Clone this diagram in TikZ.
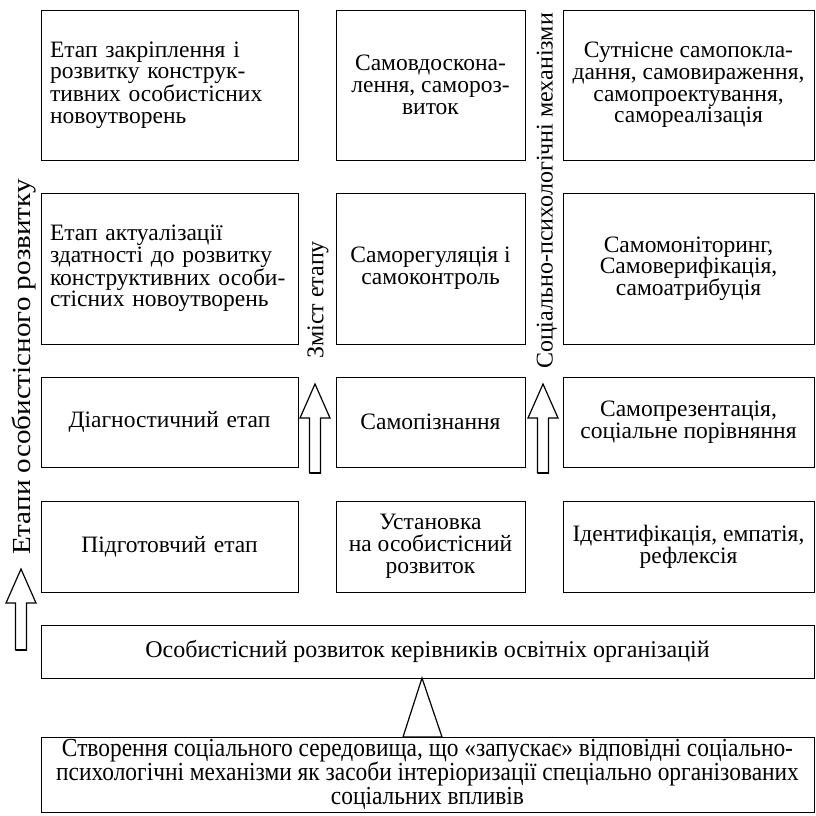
\documentclass[tikz,border=0pt]{standalone}
\usepackage{fontspec}
\setmainfont{Liberation Serif}
\newfontfamily\narrowfont[FakeStretch=0.9]{Liberation Serif}
\newfontfamily\widefont[FakeStretch=1.12]{Liberation Serif}
\usetikzlibrary{positioning}

\tikzset{
  box/.style={draw,line width=0.9pt,inner sep=0pt,outer sep=0pt,
    font=\fontsize{23.5}{21.7}\selectfont,align=center},
  stagebox/.style={box,minimum width=257pt,inner xsep=9pt,text width=239pt,align=left},
  midbox/.style={box,minimum width=189pt},
  mechbox/.style={box,minimum width=251pt},
  sidelabel/.style={rotate=90,inner sep=0pt,font=\fontsize{24}{24}\selectfont},
  arrline/.style={line width=1.2pt,line join=miter},
  pics/uparrow/.style={code={
    \draw[arrline] (-5.5,0) -- (-5.5,{-#1+34}) -- (-15,{-#1+34}) -- (0,-#1)
      -- (15,{-#1+34}) -- (5.5,{-#1+34}) -- (5.5,0) -- cycle;
    \draw[line width=2.5pt] (-5.5,0) -- (5.5,0);}}
}

\begin{document}
\lineskiplimit=-30pt
\begin{tikzpicture}[x=1pt,y=-1pt]
  \useasboundingbox (0,0) rectangle (816,816);

  % row 1
  \node[stagebox,minimum height=150pt] (a1) at (169.5,85)
    {Етап закріплення і\\ розвитку конструк-\\ тивних особистісних\\ новоутворень};
  \node[midbox,minimum height=150pt,right=38pt of a1] (b1)
    {Самовдоскона-\\ лення, самороз-\\ виток};
  \node[mechbox,minimum height=150pt,right=38pt of b1] (c1)
    {Сутнісне самопокла-\\ дання, самовираження,\\ самопроектування,\\ самореалізація};

  % row 2
  \node[stagebox,minimum height=151pt,below=33pt of a1] (a2)
    {Етап актуалізації\\ здатності до розвитку\\ конструктивних особи-\\ стісних новоутворень};
  \node[midbox,minimum height=151pt,below=33pt of b1] (b2)
    {Саморегуляція і\\ самоконтроль};
  \node[mechbox,minimum height=151pt,below=33pt of c1] (c2)
    {Самомоніторинг,\\ Самоверифікація,\\ самоатрибуція};

  % row 3
  \node[stagebox,minimum height=90pt,below=33pt of a2,align=center] (a3)
    {Діагностичний етап};
  \node[midbox,minimum height=90pt,below=33pt of b2] (b3) {Самопізнання};
  \node[mechbox,minimum height=90pt,below=33pt of c2] (c3)
    {Самопрезентація,\\ соціальне порівняння};

  % row 4
  \node[stagebox,minimum height=91pt,below=34pt of a3,align=center] (a4)
    {Підготовчий етап};
  \node[midbox,minimum height=91pt,below=34pt of b3] (b4)
    {Установка\\ на особистісний\\ розвиток};
  \node[mechbox,minimum height=91pt,below=34pt of c3] (c4)
    {Ідентифікація, емпатія,\\ рефлексія};

  % base
  \node[box,minimum width=773pt,minimum height=53pt,anchor=north west,
    font=\fontsize{24}{24}\selectfont] (bar)
    at ([yshift=-33pt]a4.south west)
    {Особистісний розвиток керівників освітніх організацій};
  \node[box,minimum width=773pt,minimum height=75pt,anchor=north west,
    font=\narrowfont\fontsize{26}{24}\selectfont] (env)
    at ([yshift=-59pt]bar.south west)
    {Створення соціального середовища, що «запускає» відповідні соціально-\\
     психологічні механізми як засоби інтеріоризації спеціально організованих\\
     соціальних впливів};

  \coordinate (tip) at (422,0);
  \coordinate (tipr) at (442,0);
  \coordinate (tipl) at (403,0);
  \draw[arrline] (bar.south -| tip) -- (env.north -| tipr)
    -- (env.north -| tipl) -- cycle;

  % side labels
  \node[sidelabel,font=\widefont\fontsize{26}{26}\selectfont] (lstage) at (24,367)
    {Етапи особистісного розвитку};
  \node[sidelabel] (lcont) at (318,300) {Зміст етапу};
  \node[sidelabel] (lmech) at (547,191) {Соціально-психологічні механізми};

  \pic (arrL) at (21,650) {uparrow=81};
  \pic (arrB) at (315,473) {uparrow=89};
  \pic (arrC) at (543,473) {uparrow=89};
\end{tikzpicture}
\end{document}
